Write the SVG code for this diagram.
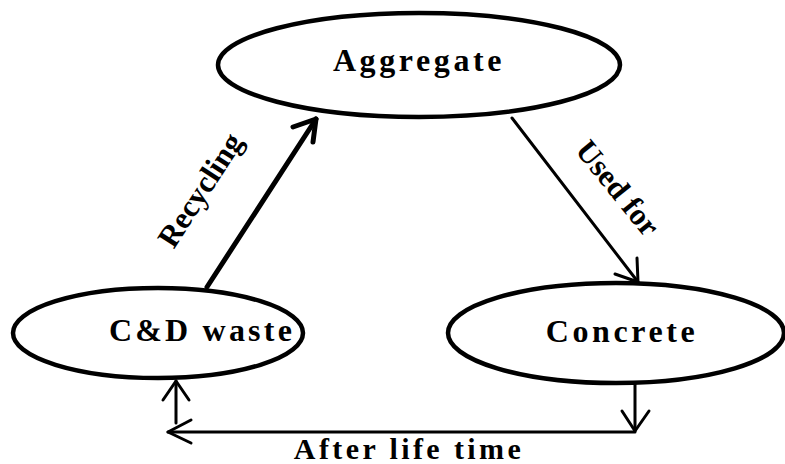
<svg xmlns="http://www.w3.org/2000/svg" width="785" height="464" viewBox="0 0 785 464">
<style>
.node{fill:#fff;stroke:#000;stroke-width:4.5}
.lbl{font-family:"Liberation Serif","Times New Roman",serif;font-weight:bold;font-size:32px;fill:#000;text-anchor:middle;letter-spacing:3.6px}
.elbl{font-family:"Liberation Serif","Times New Roman",serif;font-weight:bold;font-size:31px;fill:#000;text-anchor:middle;dominant-baseline:central}
.edge{fill:none;stroke:#000;stroke-linecap:round;stroke-linejoin:round}
</style>
<rect width="785" height="464" fill="#fff"/>
<g id="connectors">
  <g id="recycling">
    <line class="edge" x1="207" y1="287" x2="316" y2="119" stroke-width="5"/>
    <polyline class="edge" points="293,127 316,119 313,142" stroke-width="5"/>
    <text class="elbl" transform="translate(200,190) rotate(-57)">Recycling</text>
  </g>
  <g id="usedfor">
    <line class="edge" x1="512" y1="118" x2="638" y2="282" stroke-width="3"/>
    <polyline class="edge" points="615,274 638,282 637,258" stroke-width="3"/>
    <text class="elbl" transform="translate(618,188) rotate(51)">Used for</text>
  </g>
  <g id="afterlife">
    <polyline class="edge" points="635,383 635,432 168,432" stroke-width="3"/>
    <polyline class="edge" points="622,411 635,431 649,411" stroke-width="3"/>
    <polyline class="edge" points="191,420 168,432 191,443" stroke-width="3"/>
    <line class="edge" x1="176" y1="381" x2="176" y2="423" stroke-width="3"/>
    <polyline class="edge" points="163,400 176,381 189,400" stroke-width="3"/>
    <text class="lbl" x="409" y="459" style="font-size:30px;letter-spacing:3.4px">After life time</text>
  </g>
</g>
<g id="aggregate">
  <ellipse class="node" cx="419" cy="65" rx="201" ry="52"/>
  <text class="lbl" x="419" y="71">Aggregate</text>
</g>
<g id="cdwaste">
  <ellipse class="node" cx="158" cy="333" rx="145" ry="45"/>
  <text class="lbl" x="202" y="341" style="letter-spacing:3.2px">C&amp;D waste</text>
</g>
<g id="concrete">
  <ellipse class="node" cx="616" cy="333" rx="168" ry="50"/>
  <text class="lbl" x="622" y="342">Concrete</text>
</g>
</svg>
